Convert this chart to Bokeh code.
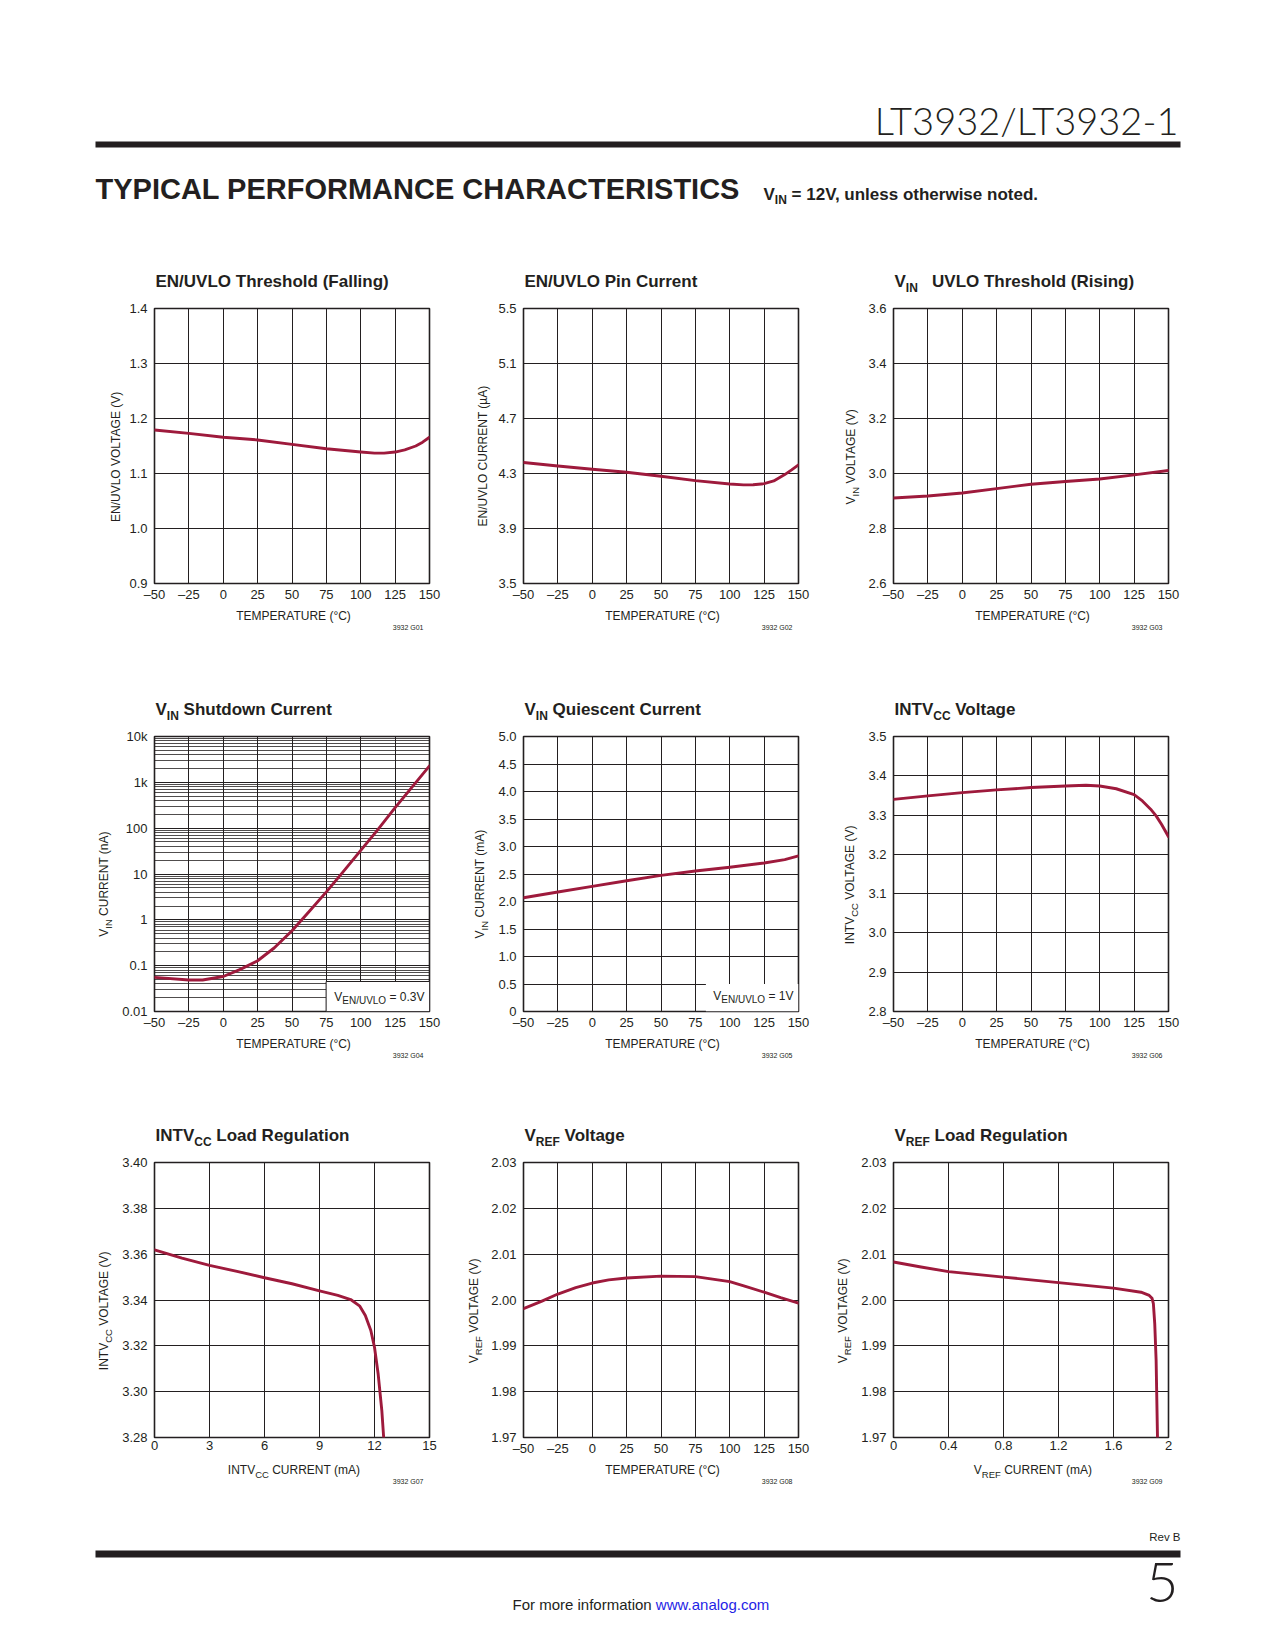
import math
from bokeh.plotting import figure
from bokeh.models import Range1d, FixedTicker, Label
from bokeh.layouts import row, column
from bokeh.embed import file_html
from bokeh.resources import INLINE

# ---------------- data ----------------
temp_ticks = [-50, -25, 0, 25, 50, 75, 100, 125, 150]
temp_labels = ["\u201350", "\u201325", "0", "25", "50", "75", "100", "125", "150"]

# G01 EN/UVLO threshold (falling)
t1 = [-50, -25, 0, 25, 50, 75, 100, 110, 117, 125, 132, 140, 145, 150]
v1 = [1.179, 1.173, 1.166, 1.161, 1.153, 1.145, 1.139, 1.137, 1.137, 1.139, 1.143, 1.150,
      1.157, 1.166]
y1_ticks = [0.9, 1.0, 1.1, 1.2, 1.3, 1.4]
y1_labels = ["0.9", "1.0", "1.1", "1.2", "1.3", "1.4"]

# G02 EN/UVLO pin current
t2 = [-50, -25, 0, 25, 50, 75, 100, 110, 117, 125, 132, 140, 145, 150]
v2 = [4.380, 4.355, 4.331, 4.309, 4.280, 4.248, 4.224, 4.217, 4.218, 4.226, 4.246, 4.292,
      4.326, 4.363]
y2_ticks = [3.5, 3.9, 4.3, 4.7, 5.1, 5.5]
y2_labels = ["3.5", "3.9", "4.3", "4.7", "5.1", "5.5"]

# G03 VIN UVLO threshold (rising)
t3 = [-50, -25, 0, 25, 50, 75, 100, 125, 150]
v3 = [2.911, 2.918, 2.929, 2.945, 2.961, 2.971, 2.980, 2.995, 3.011]
y3_ticks = [2.6, 2.8, 3.0, 3.2, 3.4, 3.6]
y3_labels = ["2.6", "2.8", "3.0", "3.2", "3.4", "3.6"]

# G04 VIN shutdown current (nA, log)
t4 = [-50, -25, -15, 0, 12, 25, 37, 50, 62, 75, 87, 100, 112, 125, 137, 150]
v4 = [0.0556, 0.0486, 0.0486, 0.058, 0.082, 0.128, 0.243, 0.58, 1.47, 4.08, 11.0,
      32.7, 89.6, 280.0, 768.0, 2290.0]
y4_ticks = [0.01, 0.1, 1, 10, 100, 1000, 10000]
y4_labels = ["0.01", "0.1", "1", "10", "100", "1k", "10k"]

# G05 VIN quiescent current (mA)
t5 = [-50, -25, 0, 25, 50, 75, 100, 125, 140, 150]
v5 = [2.068, 2.172, 2.275, 2.378, 2.476, 2.555, 2.622, 2.701, 2.762, 2.828]
y5_ticks = [0, 0.5, 1.0, 1.5, 2.0, 2.5, 3.0, 3.5, 4.0, 4.5, 5.0]
y5_labels = ["0", "0.5", "1.0", "1.5", "2.0", "2.5", "3.0", "3.5", "4.0", "4.5", "5.0"]

# G06 INTVCC voltage
t6 = [-50, -25, 0, 25, 50, 75, 90, 100, 112, 125, 131, 137, 141, 145, 150]
v6 = [3.340, 3.349, 3.357, 3.364, 3.370, 3.374, 3.376, 3.374, 3.367, 3.352, 3.336, 3.315,
      3.298, 3.276, 3.245]
y6_ticks = [2.8, 2.9, 3.0, 3.1, 3.2, 3.3, 3.4, 3.5]
y6_labels = ["2.8", "2.9", "3.0", "3.1", "3.2", "3.3", "3.4", "3.5"]

# G07 INTVCC load regulation
i7 = [0, 1.5, 3, 4.5, 6, 7.5, 9, 10, 10.7, 11.2, 11.5, 11.8, 12.0, 12.2, 12.4, 12.5]
v7 = [3.3619, 3.3583, 3.3551, 3.3525, 3.3497, 3.3471, 3.3440, 3.3420, 3.3402, 3.3373,
      3.3332, 3.3267, 3.3194, 3.3077, 3.2917, 3.2800]
x7_ticks = [0, 3, 6, 9, 12, 15]
x7_labels = ["0", "3", "6", "9", "12", "15"]
y7_ticks = [3.28, 3.30, 3.32, 3.34, 3.36, 3.38, 3.40]
y7_labels = ["3.28", "3.30", "3.32", "3.34", "3.36", "3.38", "3.40"]

# G08 VREF voltage
t8 = [-50, -37, -25, -12, 0, 12, 25, 50, 75, 100, 112, 125, 137, 150]
v8 = [1.9981, 1.9997, 2.0013, 2.0027, 2.0037, 2.0044, 2.0048, 2.0052, 2.0051, 2.0040,
      2.0029, 2.0017, 2.0005, 1.9993]
yref_ticks = [1.97, 1.98, 1.99, 2.00, 2.01, 2.02, 2.03]
yref_labels = ["1.97", "1.98", "1.99", "2.00", "2.01", "2.02", "2.03"]

# G09 VREF load regulation
i9 = [0, 0.2, 0.4, 0.8, 1.2, 1.6, 1.8, 1.86, 1.88, 1.89, 1.90, 1.91, 1.92]
v9 = [2.0083, 2.0072, 2.0062, 2.0050, 2.0038, 2.0026, 2.0017, 2.0010, 2.0004, 1.9992,
      1.9948, 1.9868, 1.9700]
x9_ticks = [0, 0.4, 0.8, 1.2, 1.6, 2.0]
x9_labels = ["0", "0.4", "0.8", "1.2", "1.6", "2"]

# ---------------- style ----------------
FONT = "Liberation Sans"
THIN = "Lato Light"
DARK = "#231f20"
CURVE = "#9e1a3c"
W = H = 275
TICK_SIZE = 13
LAB = 12
SUB_LAB = 9.5
TITLE = 17
SUB_TITLE = 12
FIX = 0.45          # baseline correction (fraction of font size)

_UP = "ABCDEFGHIJKLMNOPQRSTUVWXYZ"
_LO = "abcdefghijklmnopqrstuvwxyz"
AR = dict(zip(_UP, [667, 667, 722, 722, 667, 611, 778, 722, 278, 500, 667, 556, 833,
                    722, 778, 667, 778, 722, 667, 611, 722, 667, 944, 667, 667, 611]))
AR.update(zip(_LO, [556, 556, 500, 556, 556, 278, 556, 556, 222, 222, 500, 222, 833,
                    556, 556, 556, 556, 333, 500, 278, 556, 500, 722, 500, 500, 500]))
AR.update({" ": 278, "(": 333, ")": 333, "/": 278, ".": 278, ",": 278, "=": 584,
           "-": 333, "\u00b0": 400, "\u00b5": 576})
for _d in "0123456789":
    AR[_d] = 556
ARB = dict(AR)
ARB.update(zip(_UP, [722, 722, 722, 722, 667, 611, 778, 722, 278, 556, 722, 611, 833,
                     722, 778, 667, 778, 722, 667, 611, 722, 667, 944, 667, 667, 611]))
ARB.update(zip(_LO, [556, 611, 556, 611, 556, 333, 611, 611, 278, 278, 556, 278, 889,
                     611, 611, 611, 611, 389, 556, 333, 611, 556, 778, 556, 556, 500]))


def tw(s, size, bold=False):
    t = ARB if bold else AR
    return sum(t.get(c, 556) for c in s) / 1000.0 * size


def lab(p, x, y, s, size, bold=False, angle=0.0, font=FONT, color=DARK, align="left"):
    p.add_layout(Label(x=x, y=y, text=s, text_font=font, text_font_size=f"{size}px",
                       text_font_style="bold" if bold else "normal", text_color=color,
                       text_align=align, text_baseline="alphabetic", angle=angle))


# --- text in page-coordinate strips (y grows downward) ---
def hpieces(p, x, base_y, pieces, align="left"):
    total = sum(tw(t, s, b) for t, s, b, _ in pieces)
    if align == "center":
        x -= total / 2
    elif align == "right":
        x -= total
    for t, s, b, sh in pieces:
        n = len(t) - len(t.lstrip(" "))
        x += tw(" " * n, s, b)
        t2 = t.lstrip(" ")
        lab(p, x, base_y + sh - FIX * s, t2, s, b)
        x += tw(t2, s, b)


def vpieces(p, cx, cy, pieces):
    total = sum(tw(t, s, b) for t, s, b, _ in pieces)
    y = cy + total / 2
    base = cx + 0.36 * LAB
    for t, s, b, sh in pieces:
        n = len(t) - len(t.lstrip(" "))
        y -= tw(" " * n, s, b)
        t2 = t.lstrip(" ")
        lab(p, base + sh - FIX * s, y, t2, s, b, angle=math.pi / 2)
        y -= tw(t2, s, b)


def T(*parts):
    return [(s, SUB_TITLE if sub else TITLE, True, 3.5 if sub else 0) for s, sub in parts]


def L(*parts):
    return [(s, SUB_LAB if sub else LAB, False, 3 if sub else 0) for s, sub in parts]


def page_fig(x0, x1, y_top, y_bot):
    p = figure(frame_width=x1 - x0, frame_height=y_bot - y_top, x_range=Range1d(x0, x1),
               y_range=Range1d(y_bot, y_top), x_axis_location=None, y_axis_location=None,
               tools="", toolbar_location=None, output_backend="svg", min_border=0,
               background_fill_color="white", border_fill_color="white")
    p.outline_line_color = None
    p.grid.grid_line_color = None
    return p


def chart(xr, yr, xt, xl, yt, yl, lb, log=False, yminor=None):
    p = figure(frame_width=W, frame_height=H, x_range=Range1d(*xr), y_range=Range1d(*yr),
               y_axis_type="log" if log else "linear", tools="", toolbar_location=None,
               output_backend="svg", min_border_left=lb, min_border_right=14,
               min_border_top=10, min_border_bottom=24,
               background_fill_color="white", border_fill_color="white")
    p.title.text = ""
    p.outline_line_color = DARK
    p.outline_line_width = 1.6
    p.xaxis.ticker = FixedTicker(ticks=xt)
    if yminor:
        p.yaxis.ticker = FixedTicker(ticks=yt, minor_ticks=yminor)
    else:
        p.yaxis.ticker = FixedTicker(ticks=yt)
    p.xaxis.major_label_overrides = dict(zip(xt, xl))
    p.yaxis.major_label_overrides = dict(zip(yt, yl))
    for ax in p.axis:
        ax.axis_line_color = None
        ax.major_tick_out = 0
        ax.major_tick_in = 0
        ax.minor_tick_out = 0
        ax.minor_tick_in = 0
        ax.major_label_text_font = FONT
        ax.major_label_text_font_size = f"{TICK_SIZE}px"
        ax.major_label_text_color = DARK
    p.yaxis.major_label_standoff = 7
    p.xaxis.major_label_standoff = 3
    p.grid.grid_line_color = DARK
    p.grid.grid_line_width = 1
    if yminor:
        p.ygrid.minor_grid_line_color = DARK
        p.ygrid.minor_grid_line_width = 0.8

    def X(dx):
        return xr[0] + (xr[1] - xr[0]) * dx / W

    def Y(dy):
        if log:
            a, b = math.log10(yr[0]), math.log10(yr[1])
            return 10 ** (a + (b - a) * dy / H)
        return yr[0] + (yr[1] - yr[0]) * dy / H
    return p, X, Y


def box_note(p, X, Y, right_dx, base_dy, pieces):
    total = sum(tw(t, s, False) for t, s, _ in pieces)
    dx = right_dx - total
    for t, s, sh in pieces:
        n = len(t) - len(t.lstrip(" "))
        dx += tw(" " * n, s)
        t2 = t.lstrip(" ")
        lab(p, X(dx), Y(base_dy - sh + FIX * s), t2, s)
        dx += tw(t2, s)


def curve(p, x, y):
    p.line(x, y, line_color=CURVE, line_width=2.9, line_join="round", line_cap="round")


TX = (-50, 150)
TEMP_LABEL = L(("TEMPERATURE (\u00b0C)", False))

# ---------------- the nine charts ----------------
p1, X, Y = chart(TX, (0.9, 1.4), temp_ticks, temp_labels, y1_ticks, y1_labels, 28)
curve(p1, t1, v1)
p2, X, Y = chart(TX, (3.5, 5.5), temp_ticks, temp_labels, y2_ticks, y2_labels, 28)
curve(p2, t2, v2)
p3, X, Y = chart(TX, (2.6, 3.6), temp_ticks, temp_labels, y3_ticks, y3_labels, 28)
curve(p3, t3, v3)

minor4 = [m * 10.0 ** d for d in range(-2, 4) for m in range(2, 10)]
p4, X, Y = chart(TX, (0.01, 10000), temp_ticks, temp_labels, y4_ticks, y4_labels, 35,
                 log=True, yminor=minor4)
p4.quad(left=[X(171.6)], right=[X(W)], bottom=[Y(0)], top=[Y(30)], fill_color="white",
        line_color=DARK, line_width=1)
curve(p4, t4, v4)
box_note(p4, X, Y, W - 5, 9.5, [("V", 12, 0), ("EN/UVLO", 10, 2.5), (" = 0.3V", 12, 0)])

p5, X, Y = chart(TX, (0, 5), temp_ticks, temp_labels, y5_ticks, y5_labels, 28)
p5.quad(left=[X(182.4)], right=[X(W)], bottom=[Y(0)], top=[Y(27.5)], fill_color="white",
        line_color=None)
curve(p5, t5, v5)
box_note(p5, X, Y, W - 5, 10, [("V", 12, 0), ("EN/UVLO", 10, 2.5), (" = 1V", 12, 0)])

p6, X, Y = chart(TX, (2.8, 3.5), temp_ticks, temp_labels, y6_ticks, y6_labels, 28)
curve(p6, t6, v6)

p7, X, Y = chart((0, 15), (3.28, 3.40), x7_ticks, x7_labels, y7_ticks, y7_labels, 35)
curve(p7, i7, v7)
p8, X, Y = chart(TX, (1.97, 2.03), temp_ticks, temp_labels, yref_ticks, yref_labels, 35)
curve(p8, t8, v8)
p9, X, Y = chart((0, 2), (1.97, 2.03), x9_ticks, x9_labels, yref_ticks, yref_labels, 35)
curve(p9, i9, v9)

# ---------------- page geometry ----------------
COLS = [154, 523, 893]          # frame left edges
ROWS = [308, 736, 1162]         # frame top edges
TOPB, BOTB, RB = 10, 24, 14
PAGE_W = 1272

charts = [[p1, p2, p3], [p4, p5, p6], [p7, p8, p9]]
lbs = [[28, 28, 28], [35, 28, 28], [35, 35, 35]]
titles = [
    [T(("EN/UVLO Threshold (Falling)", False)),
     T(("EN/UVLO Pin Current", False)),
     T(("V", False), ("IN", True), ("   UVLO Threshold (Rising)", False))],
    [T(("V", False), ("IN", True), (" Shutdown Current", False)),
     T(("V", False), ("IN", True), (" Quiescent Current", False)),
     T(("INTV", False), ("CC", True), (" Voltage", False))],
    [T(("INTV", False), ("CC", True), (" Load Regulation", False)),
     T(("V", False), ("REF", True), (" Voltage", False)),
     T(("V", False), ("REF", True), (" Load Regulation", False))],
]
ylabels = [
    [L(("EN/UVLO VOLTAGE (V)", False)), L(("EN/UVLO CURRENT (\u00b5A)", False)),
     L(("V", False), ("IN", True), (" VOLTAGE (V)", False))],
    [L(("V", False), ("IN", True), (" CURRENT (nA)", False)),
     L(("V", False), ("IN", True), (" CURRENT (mA)", False)),
     L(("INTV", False), ("CC", True), (" VOLTAGE (V)", False))],
    [L(("INTV", False), ("CC", True), (" VOLTAGE (V)", False)),
     L(("V", False), ("REF", True), (" VOLTAGE (V)", False)),
     L(("V", False), ("REF", True), (" VOLTAGE (V)", False))],
]
ycx = [[-37, -39, -41], [-49, -42, -42], [-49, -48, -49]]
xlabels = [
    [TEMP_LABEL] * 3,
    [TEMP_LABEL] * 3,
    [L(("INTV", False), ("CC", True), (" CURRENT (mA)", False)), TEMP_LABEL,
     L(("V", False), ("REF", True), (" CURRENT (mA)", False))],
]
codes = [["3932 G01", "3932 G02", "3932 G03"], ["3932 G04", "3932 G05", "3932 G06"],
         ["3932 G07", "3932 G08", "3932 G09"]]

# horizontal strips: header (+row-1 titles), gaps (+x labels, next titles), footer
strip_bounds = [(0, ROWS[0] - TOPB)]
for r in range(3):
    top = ROWS[r] + H + BOTB
    bot = ROWS[r + 1] - TOPB if r < 2 else 1646
    strip_bounds.append((top, bot))
strips = [page_fig(0, PAGE_W, a, b) for a, b in strip_bounds]

for r in range(3):
    for c in range(3):
        L0 = COLS[c]
        hpieces(strips[r], L0 + 1, ROWS[r] - 19, titles[r][c])
        hpieces(strips[r + 1], L0 + W / 2 + 2, ROWS[r] + H + 38, xlabels[r][c], align="center")
        hpieces(strips[r + 1], L0 + W - 6, ROWS[r] + H + 47, [(codes[r][c], 7, False, 0)],
                align="right")

# header
hdr = strips[0]
lab(hdr, 1178, 137 - FIX * 38, "LT3932/LT3932-1", 38, font=THIN, align="right")
hdr.quad(left=[95], right=[1180], top=[141], bottom=[147], fill_color=DARK, line_color=None)
hpieces(hdr, 95, 202, [("TYPICAL PERFORMANCE CHARACTERISTICS", 29, True, 0)])
hpieces(hdr, 763, 202, [("V", 17, True, 0), ("IN", 12, True, 3),
                        (" = 12V, unless otherwise noted.", 17, True, 0)])

# footer
ftr = strips[3]
hpieces(ftr, 1180, 1542, [("Rev B", 11.5, False, 0)], align="right")
ftr.quad(left=[95], right=[1180], top=[1550], bottom=[1557], fill_color=DARK, line_color=None)
_fx = 512
hpieces(ftr, _fx, 1611, [("For more information", 15, False, 0)])
lab(ftr, _fx + tw("For more information ", 15), 1611 - FIX * 15, "www.analog.com", 15,
    color="#1f1fe6")
lab(ftr, 1178, 1607 - FIX * 56, "5", 56, font=THIN, align="right")

# chart rows with y-label strips in between
rows = []
for r in range(3):
    ytop, ybot = ROWS[r] - TOPB, ROWS[r] + H + BOTB
    items = []
    x = 0
    for c in range(3):
        fl = COLS[c] - lbs[r][c]
        s = page_fig(x, fl, ytop, ybot)
        vpieces(s, COLS[c] + ycx[r][c], ROWS[r] + H / 2, ylabels[r][c])
        items.append(s)
        items.append(charts[r][c])
        x = COLS[c] + W + RB
    rows.append(row(*items))

layout = column(strips[0], rows[0], strips[1], rows[1], strips[2], rows[2], strips[3])

open("out.html", "w").write(file_html(layout, INLINE, title="LT3932 Typical Performance Characteristics"))
